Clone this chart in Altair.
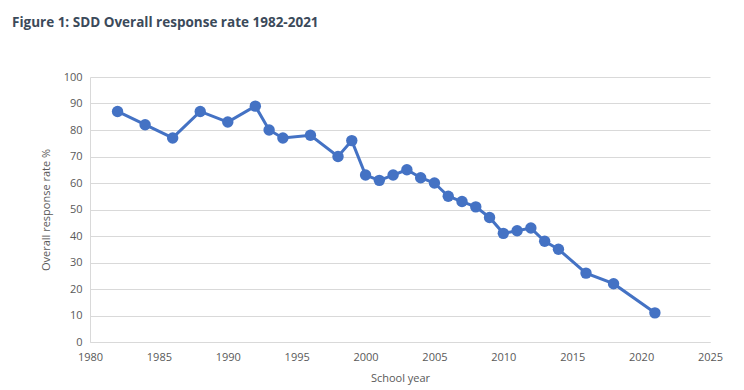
import altair as alt
import pandas as pd

years = [1982, 1984, 1986, 1988, 1990, 1992, 1993, 1994, 1996, 1998, 1999, 2000,
         2001, 2002, 2003, 2004, 2005, 2006, 2007, 2008, 2009, 2010, 2011, 2012,
         2013, 2014, 2016, 2018, 2021]
rates = [87, 82, 77, 87, 83, 89, 80, 77, 78, 70, 76, 63,
         61, 63, 65, 62, 60, 55, 53, 51, 47, 41, 42, 43,
         38, 35, 26, 22, 11]
x_ticks = [1980, 1985, 1990, 1995, 2000, 2005, 2010, 2015, 2020, 2025]
y_ticks = [0, 10, 20, 30, 40, 50, 60, 70, 80, 90, 100]

df = pd.DataFrame({"year": years, "rate": rates})

x = alt.X("year:Q", scale=alt.Scale(domain=[1980, 2025], nice=False, zero=False),
          axis=alt.Axis(values=x_ticks, format="d", title="School year", grid=False,
                        ticks=False, domain=True, domainColor="#d9d9d9",
                        labelFlush=False, labelOverlap=False,
                        labelColor="#595959", labelFontSize=11, labelPadding=9,
                        titleColor="#595959", titleFontSize=11, titleFontWeight="normal",
                        titlePadding=10, labelFont="Open Sans", titleFont="Open Sans"))
y = alt.Y("rate:Q", scale=alt.Scale(domain=[0, 100], nice=False),
          axis=alt.Axis(values=y_ticks, title="Overall response rate %", grid=True,
                        gridColor="#d9d9d9", gridWidth=1, ticks=False, domain=True,
                        domainColor="#d9d9d9", labelColor="#595959", labelFontSize=11,
                        labelFlush=False, labelOverlap=False,
                        labelPadding=8, titleColor="#595959", titleFontSize=11,
                        titleFontWeight="normal", titlePadding=12,
                        labelFont="Open Sans", titleFont="Open Sans"))

line = alt.Chart(df).mark_line(color="#4472C4", strokeWidth=3).encode(x=x, y=y)
pts = alt.Chart(df).mark_point(filled=True, color="#4472C4", size=130, opacity=1).encode(x=x, y=y)

chart = (line + pts).properties(
    width=620, height=265,
    autosize=alt.AutoSizeParams(type="none"),
    padding={"left": 82, "top": 69, "right": 24, "bottom": 46},
    title=alt.TitleParams("Figure 1: SDD Overall response rate 1982-2021", anchor="start",
                          frame="group", dx=-78, offset=42, font="Open Sans",
                          fontSize=13.5, fontWeight="bold", color="#3b4a5a"),
).configure_view(stroke=None)

chart.save("out.html", embed_options={"renderer": "svg", "actions": False})
